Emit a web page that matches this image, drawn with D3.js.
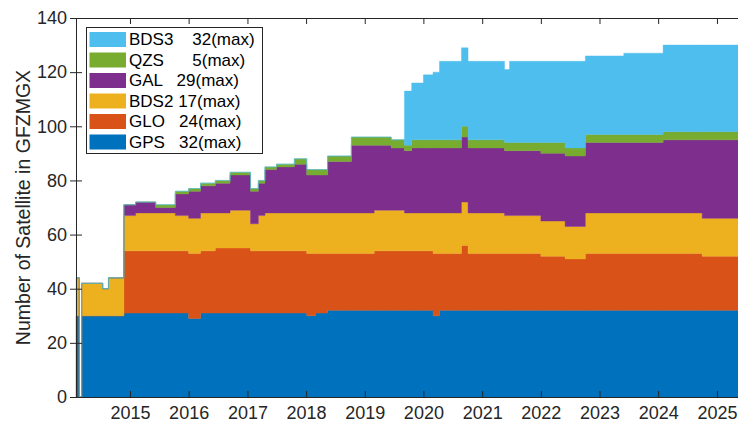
<!DOCTYPE html>
<html>
<head>
<meta charset="utf-8">
<script src="https://cdn.jsdelivr.net/npm/d3@7"></script>
<style>
  html, body { margin: 0; padding: 0; background: #fff; }
  svg { display: block; font-family: "Liberation Sans", Arial, Helvetica, sans-serif; }
</style>
</head>
<body>
<svg id="chart" width="738" height="423"></svg>
<script>
// ---- data ----
const dates = [
  "2014-01-30","2014-02-20","2014-03-06","2014-07-15","2014-08-20","2014-11-24",
  "2015-02-05","2015-06-10","2015-10-10","2016-01-01","2016-03-15","2016-06-15",
  "2016-09-15","2017-01-20","2017-03-10","2017-04-20","2017-07-01","2017-10-20",
  "2018-01-05","2018-03-01","2018-05-15","2018-10-10","2019-03-01","2019-06-15",
  "2019-09-05","2019-10-20","2020-01-01","2020-03-01","2020-04-10","2020-08-25",
  "2020-10-05","2021-05-20","2021-06-20","2022-01-01","2022-06-01","2022-10-05",
  "2023-06-01","2024-02-01","2024-10-01","2025-05-12"
];
const GPS  = [30,0,30,30,30,31,31,31,31,29,31,31,31,31,31,31,31,31,30,31,32,32,32,32,32,32,32,30,32,32,32,32,32,32,32,32,32,32,32,32];
const GLO  = [0,0,0,0,0,23,23,23,23,24,23,24,24,23,23,23,23,23,23,22,21,21,22,22,22,22,22,23,21,24,21,21,21,20,19,21,21,21,20,20];
const BDS2 = [14,0,12,10,14,13,14,14,13,13,14,13,14,10,13,14,14,14,15,15,15,15,15,15,14,14,14,15,15,16,15,14,14,13,12,15,15,15,14,14];
const GAL  = [0,0,0,0,0,4,4,2,8,10,10,11,13,12,12,16,17,18,14,14,19,25,24,23,23,24,24,24,24,24,24,24,24,25,26,26,26,27,29,29];
const QZS  = [0,0,0,0,0,0,0,1,1,1,1,1,1,1,1,1,1,2,2,2,2,3,3,3,2,3,3,3,3,4,3,3,3,4,3,3,3,3,3,3];
const BDS3 = [0,0,0,0,0,0,0,0,0,0,0,0,0,0,0,0,0,0,0,0,0,0,0,0,20,21,24,25,29,29,29,27,30,30,32,29,30,32,32,32];

const systems = ["GPS","GLO","BDS2","GAL","QZS","BDS3"];
const legendLabels = ["BDS3    32(max)","QZS      5(max)","GAL   29(max)","BDS2 17(max)","GLO   24(max)","GPS   32(max)"];
const legendKeys = ["BDS3","QZS","GAL","BDS2","GLO","GPS"];
const yTicks = [0,20,40,60,80,100,120,140];
const xTickYears = [2015,2016,2017,2018,2019,2020,2021,2022,2023,2024,2025];
const yLabel = "Number of Satellite in GFZMGX";

// ---- styling ----
const colors = {GPS:"#0072BD", GLO:"#D95319", BDS2:"#EDB120", GAL:"#7E2F8E", QZS:"#77AC30", BDS3:"#4DBEEE"};
const axisColor = "#262626";
const pL = 76, pR = 738, pT = 18, pB = 397;

const parse = d3.timeParse("%Y-%m-%d");
const series = {GPS, GLO, BDS2, GAL, QZS, BDS3};
const rows = dates.map((d, i) => {
  const r = {date: parse(d)};
  systems.forEach(k => r[k] = series[k][i]);
  return r;
});

const x = d3.scaleTime().domain([parse("2014-01-30"), parse("2025-05-12")]).range([pL, pR]);
const y = d3.scaleLinear().domain([0, 140]).range([pB, pT]);

const svg = d3.select("#chart");

const stacked = d3.stack().keys(systems)(rows);
const area = d3.area()
  .curve(d3.curveStepAfter)
  .x(d => x(d.data.date))
  .y0(d => y(d[0]))
  .y1(d => y(d[1]));

svg.append("g").selectAll("path")
  .data(stacked)
  .join("path")
  .attr("fill", s => colors[s.key])
  .attr("stroke", s => colors[s.key])
  .attr("stroke-width", 0.4)
  .attr("d", area);

// ---- axes ----
const fs = 18;
const xTickDates = xTickYears.map(yr => new Date(yr, 0, 1));

const gx = svg.append("g").attr("transform", `translate(0,${pB})`)
  .call(d3.axisBottom(x).tickValues(xTickDates).tickFormat(d3.timeFormat("%Y")).tickSize(-6).tickPadding(9).tickSizeOuter(0));
const gxt = svg.append("g").attr("transform", `translate(0,${pT})`)
  .call(d3.axisTop(x).tickValues(xTickDates).tickFormat("").tickSize(-6).tickSizeOuter(0));
const gy = svg.append("g").attr("transform", `translate(${pL},0)`)
  .call(d3.axisLeft(y).tickValues(yTicks).tickSize(6).tickPadding(3).tickSizeOuter(0));
const gyi = svg.append("g").attr("transform", `translate(${pL},0)`)
  .call(d3.axisRight(y).tickValues(yTicks).tickFormat("").tickSize(6).tickSizeOuter(0));

[gx, gxt, gy, gyi].forEach(g => {
  g.select(".domain").attr("stroke", axisColor).attr("stroke-width", 1);
  g.selectAll(".tick line").attr("stroke", axisColor).attr("stroke-width", 1);
  g.selectAll(".tick text").attr("fill", axisColor).style("font-size", fs + "px")
   .style("font-family", '"Liberation Sans", Arial, sans-serif');
});

svg.append("text")
  .attr("transform", `translate(23,${(pT + pB) / 2}) rotate(-90)`)
  .attr("text-anchor", "middle")
  .attr("dominant-baseline", "central")
  .attr("fill", axisColor)
  .style("font-size", "19.5px")
  .text(yLabel);

// ---- legend ----
const lg = svg.append("g");
lg.append("rect")
  .attr("x", 86.5).attr("y", 27.5).attr("width", 176).attr("height", 126)
  .attr("fill", "#fff").attr("stroke", axisColor).attr("stroke-width", 1);
legendKeys.forEach((k, i) => {
  const cy = 39.5 + i * 20.5;
  lg.append("rect").attr("x", 89.5).attr("y", cy - 7.5).attr("width", 36.5).attr("height", 15).attr("fill", colors[k]);
  lg.append("text").attr("x", 129).attr("y", cy).attr("dominant-baseline", "central")
    .attr("fill", "#000").style("font-size", "17px").style("white-space", "pre")
    .text(legendLabels[i]);
});
</script>
</body>
</html>
